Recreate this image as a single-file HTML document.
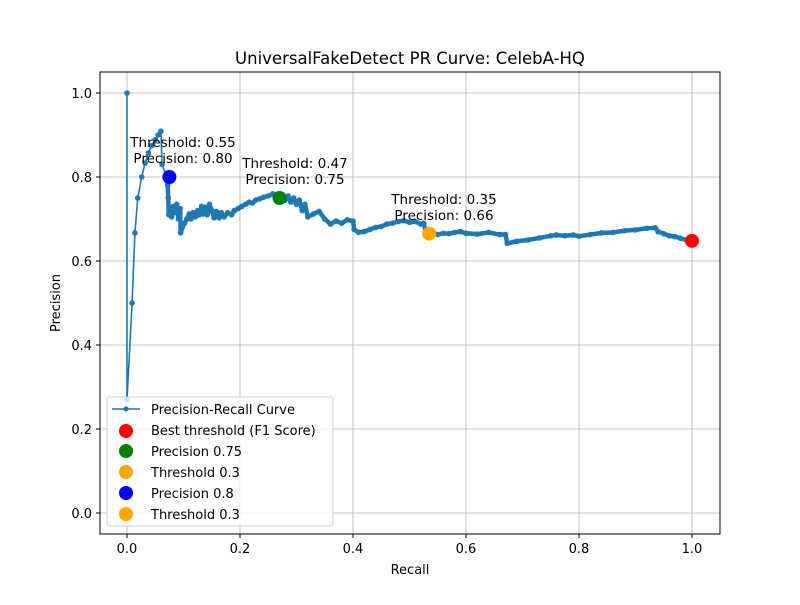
<!DOCTYPE html>
<html><head><meta charset="utf-8"><style>
body{margin:0;background:#fff}
svg text{font-family:"DejaVu Sans","Liberation Sans",sans-serif;fill:#000}
</style></head><body>
<svg id="chart" width="800" height="600">
<rect width="800" height="600" fill="#fff"/>
<text x="410" y="64" font-size="16.5" text-anchor="middle">UniversalFakeDetect PR Curve: CelebA-HQ</text>
<g id="grid"></g>
<g id="ticks"></g>
<g id="curve"></g>
<g id="highlights"></g>
<g id="annots" font-size="13.5" text-anchor="middle">
<text x="183" y="147">Threshold: 0.55</text>
<text x="183" y="163">Precision: 0.80</text>
<text x="295" y="168">Threshold: 0.47</text>
<text x="295" y="184">Precision: 0.75</text>
<text x="444" y="204">Threshold: 0.35</text>
<text x="444" y="220">Precision: 0.66</text>
</g>
<rect x="100" y="72" width="620" height="462" fill="none" stroke="#000" stroke-width="1"/>
<text x="410" y="574" font-size="13" text-anchor="middle">Recall</text>
<text transform="translate(60,303) rotate(-90)" font-size="13" text-anchor="middle">Precision</text>
<g id="legend">
<rect x="107" y="397" width="226" height="129" rx="3" fill="#fff" fill-opacity="0.8" stroke="#ccc"/>
<line x1="112" y1="409" x2="140" y2="409" stroke="#1f77b4" stroke-width="1.5"/><circle cx="126" cy="409" r="2.5" fill="#1f77b4"/>
<text x="151" y="414" font-size="13">Precision-Recall Curve</text>
<circle cx="126" cy="431" r="7" fill="red"/><text x="151" y="435" font-size="13">Best threshold (F1 Score)</text>
<circle cx="126" cy="451" r="7" fill="green"/><text x="151" y="456" font-size="13">Precision 0.75</text>
<circle cx="126" cy="472" r="7" fill="orange"/><text x="151" y="477" font-size="13">Threshold 0.3</text>
<circle cx="126" cy="493" r="7" fill="blue"/><text x="151" y="498" font-size="13">Precision 0.8</text>
<circle cx="126" cy="514" r="7" fill="orange"/><text x="151" y="519" font-size="13">Threshold 0.3</text>
</g>
</svg>
<script>
const recall=[0,0,0.009,0.014,0.019,0.026,0.032,0.038,0.044,0.05,0.055,0.06,0.062,0.07,0.072,0.073,0.074,0.076,0.079,0.082,0.085,0.088,0.091,0.094,0.095,0.098,0.102,0.106,0.11,0.113,0.117,0.121,0.125,0.128,0.132,0.135,0.139,0.142,0.146,0.15,0.154,0.158,0.163,0.167,0.172,0.178,0.185,0.19,0.197,0.203,0.21,0.216,0.222,0.228,0.235,0.242,0.25,0.258,0.262,0.27,0.275,0.28,0.285,0.29,0.295,0.3,0.305,0.31,0.315,0.32,0.33,0.34,0.35,0.36,0.37,0.38,0.39,0.40,0.402,0.41,0.42,0.43,0.44,0.45,0.46,0.47,0.48,0.49,0.50,0.51,0.52,0.525,0.53,0.54,0.55,0.56,0.57,0.58,0.59,0.6,0.62,0.64,0.66,0.67,0.673,0.69,0.71,0.73,0.75,0.76,0.775,0.79,0.80,0.82,0.84,0.86,0.88,0.90,0.92,0.935,0.94,0.95,0.96,0.97,0.98,0.99,1.0];
const precision=[1.0,0.27,0.5,0.667,0.75,0.8,0.833,0.857,0.875,0.889,0.9,0.909,0.83,0.80,0.78,0.75,0.71,0.725,0.705,0.73,0.715,0.735,0.70,0.725,0.667,0.68,0.69,0.70,0.712,0.70,0.715,0.705,0.72,0.71,0.73,0.712,0.728,0.71,0.735,0.72,0.703,0.718,0.703,0.715,0.705,0.715,0.71,0.72,0.725,0.73,0.735,0.74,0.738,0.745,0.748,0.752,0.755,0.76,0.755,0.75,0.758,0.745,0.755,0.74,0.75,0.735,0.745,0.72,0.735,0.705,0.712,0.718,0.70,0.688,0.695,0.69,0.698,0.695,0.675,0.668,0.67,0.675,0.68,0.682,0.688,0.69,0.694,0.696,0.692,0.694,0.688,0.69,0.665,0.668,0.663,0.666,0.665,0.668,0.67,0.666,0.664,0.668,0.663,0.663,0.642,0.647,0.65,0.655,0.66,0.662,0.66,0.662,0.659,0.663,0.667,0.668,0.672,0.674,0.678,0.679,0.67,0.665,0.66,0.658,0.654,0.65,0.648];
const hlNames=['best-threshold-point','precision-075-point','threshold-03-point','precision-08-point'];
const hlRecall=[1.0,0.27,0.535,0.075];
const hlPrecision=[0.648,0.75,0.665,0.80];
const hlColors=['red','green','orange','blue'];
const xTicks=[0,0.2,0.4,0.6,0.8,1.0];
const yTicks=[0,0.2,0.4,0.6,0.8,1.0];
const NS='http://www.w3.org/2000/svg';
const X=v=>127+v*565, Y=v=>513-v*420;
function mk(t,a,p){const e=document.createElementNS(NS,t);for(const k in a)e.setAttribute(k,a[k]);p.appendChild(e);return e;}
const grid=document.getElementById('grid'),ticks=document.getElementById('ticks');
xTicks.forEach(v=>{
 const l=mk('line',{x1:X(v),x2:X(v),y1:72,y2:534,stroke:'#b0b0b0','stroke-width':0.8},grid);
 
 
 mk('line',{x1:X(v),x2:X(v),y1:534,y2:538,stroke:'#000'},ticks);
 const t=mk('text',{x:X(v),y:553,'font-size':13,'text-anchor':'middle'},ticks);t.textContent=v.toFixed(1);
 
 
});
yTicks.forEach(v=>{
 const l=mk('line',{x1:100,x2:720,y1:Y(v),y2:Y(v),stroke:'#b0b0b0','stroke-width':0.8},grid);
 
 
 mk('line',{x1:96,x2:100,y1:Y(v),y2:Y(v),stroke:'#000'},ticks);
 const t=mk('text',{x:92,y:Y(v)+5,'font-size':13,'text-anchor':'end'},ticks);t.textContent=v.toFixed(1);
 
 
});
const curve=document.getElementById('curve');
const pts=recall.map((r,i)=>X(r)+','+Y(precision[i])).join(' ');
const pl=mk('polyline',{points:pts,fill:'none',stroke:'#1f77b4','stroke-width':1.6},curve);


const densePts=recall.map((r,i)=>[r,precision[i]]).filter(d=>d[0]>=0.07).map(d=>X(d[0])+','+Y(d[1])).join(' ');
const thick=mk('polyline',{points:densePts,fill:'none',stroke:'#1f77b4','stroke-width':4.5,'stroke-linejoin':'round','stroke-linecap':'round'},curve);


recall.forEach((r,i)=>{const c=mk('circle',{cx:X(r),cy:Y(precision[i]),r:2.8,fill:'#1f77b4'},curve);
 
 });
const hl=document.getElementById('highlights');
hlRecall.forEach((r,i)=>{const c=mk('circle',{cx:X(r),cy:Y(hlPrecision[i]),r:7,fill:hlColors[i]},hl);
 
 });
</script>
</body></html>
